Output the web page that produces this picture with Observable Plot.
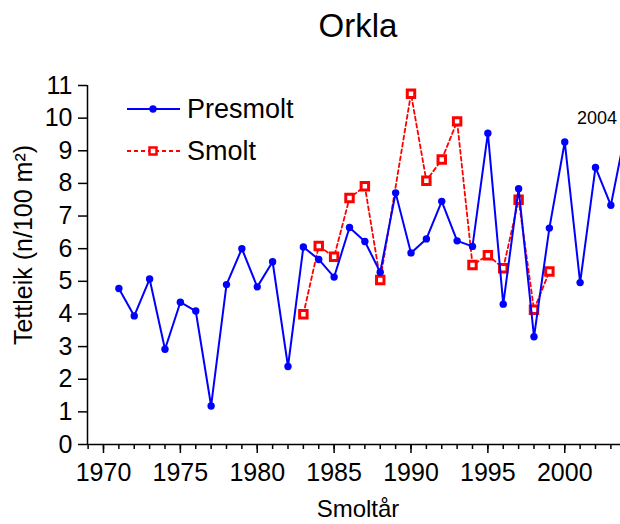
<!DOCTYPE html>
<html>
<head>
<meta charset="utf-8">
<script src="https://cdn.jsdelivr.net/npm/d3@7"></script>
<script src="https://cdn.jsdelivr.net/npm/@observablehq/plot@0.6"></script>
<style>
  html, body { margin: 0; padding: 0; background: white; overflow: hidden; }
  #chart { width: 620px; height: 524px; overflow: hidden; }
</style>
</head>
<body>
<div id="chart"></div>
<script>
// ---- data ----
const title = "Orkla";
const xLabel = "Smoltår";
const yLabel = "Tettleik (n/100 m²)";
const seriesNames = ["Presmolt", "Smolt"];

const presmoltYears = [1971,1972,1973,1974,1975,1976,1977,1978,1979,1980,1981,1982,1983,1984,1985,1986,1987,1988,1989,1990,1991,1992,1993,1994,1995,1996,1997,1998,1999,2000,2001,2002,2003,2004];
const presmoltValues = [4.78,3.94,5.07,2.92,4.36,4.09,1.18,4.90,6.00,4.83,5.60,2.39,6.05,5.67,5.13,6.65,6.22,5.28,7.71,5.87,6.30,7.45,6.24,6.07,9.54,4.30,7.84,3.30,6.63,9.27,4.96,8.49,7.33,9.7];

const smoltYears = [1983,1984,1985,1986,1987,1988,1990,1991,1992,1993,1994,1995,1996,1997,1998,1999];
const smoltValues = [3.99,6.08,5.75,7.55,7.91,5.04,10.75,8.08,8.73,9.90,5.50,5.80,5.40,7.50,4.13,5.30];

const yTicks = [0,1,2,3,4,5,6,7,8,9,10,11];
const xMajorTicks = [1970,1975,1980,1985,1990,1995,2000];
const xMinorTicks = d3.range(1969, 2004);
const annotation = "2004";

// ---- build tables ----
const presmolt = presmoltYears.map((x, i) => ({x, y: presmoltValues[i]}));
const smolt = smoltYears.map((x, i) => ({x, y: smoltValues[i]}));

const blue = "#0000ff";
const red = "#ff0000";
const font = "'Liberation Sans', Arial, Helvetica, sans-serif";

const plot = Plot.plot({
  width: 620,
  height: 524,
  marginTop: 85,
  marginBottom: 80,
  marginLeft: 87,
  marginRight: 0,
  style: {fontFamily: font, background: "white", color: "black"},
  x: {domain: [1968.96, 2003.626], axis: null},
  y: {domain: [0, 11], axis: null},
  marks: [
    // minor x ticks
    Plot.ruleX(xMinorTicks, {x: d => d, y1: 0, y2: 0, insetBottom: -5, stroke: "black", strokeWidth: 1.5}),
    Plot.axisX({ticks: xMajorTicks, tickFormat: d => String(d), tickSize: 9, tickPadding: 10, fontSize: 25, strokeWidth: 1.5, label: null}),
    Plot.axisY({ticks: yTicks, tickFormat: d => String(d), tickSize: 9, tickPadding: 6, fontSize: 25, strokeWidth: 1.5, label: null}),
    // smolt
    Plot.line(smolt, {x: "x", y: "y", stroke: red, strokeWidth: 1.8, strokeDasharray: "4,3", clip: true}),
    Plot.dot(smolt, {x: "x", y: "y", symbol: "square", r: 4.2, fill: "white", stroke: red, strokeWidth: 3, clip: true}),
    // presmolt
    Plot.line(presmolt, {x: "x", y: "y", stroke: blue, strokeWidth: 2, clip: true}),
    Plot.dot(presmolt, {x: "x", y: "y", r: 3.7, fill: blue, stroke: "none", clip: true}),
    // axis lines
    Plot.ruleY([0], {stroke: "black", strokeWidth: 1.5}),
    Plot.ruleX([1968.96], {stroke: "black", strokeWidth: 1.5})
  ]
});

document.getElementById("chart").appendChild(plot);

// ---- titles, legend, annotation ----
const svg = d3.select(plot);
const g = svg.append("g").attr("font-family", font).attr("fill", "black");

g.append("text").attr("x", 358).attr("y", 37).attr("text-anchor", "middle")
  .attr("font-size", 33).text(title);

g.append("text").attr("x", 358).attr("y", 517).attr("text-anchor", "middle")
  .attr("font-size", 24).text(xLabel);

g.append("text").attr("transform", "translate(32,245) rotate(-90)")
  .attr("text-anchor", "middle").attr("font-size", 25).text(yLabel);

g.append("text").attr("x", 617).attr("y", 124).attr("text-anchor", "end")
  .attr("font-size", 18).text(annotation);

// legend
const lg = svg.append("g").attr("font-family", font);
lg.append("line").attr("x1", 127).attr("x2", 180).attr("y1", 109).attr("y2", 109)
  .attr("stroke", blue).attr("stroke-width", 2);
lg.append("circle").attr("cx", 153).attr("cy", 109).attr("r", 3.7).attr("fill", blue);
lg.append("text").attr("x", 187).attr("y", 118).attr("font-size", 27)
  .attr("text-anchor", "start").text(seriesNames[0]);

lg.append("line").attr("x1", 127).attr("x2", 180).attr("y1", 151).attr("y2", 151)
  .attr("stroke", red).attr("stroke-width", 1.8).attr("stroke-dasharray", "4,3");
lg.append("rect").attr("x", 149.5).attr("y", 147.5).attr("width", 7).attr("height", 7)
  .attr("fill", "white").attr("stroke", red).attr("stroke-width", 2.5);
lg.append("text").attr("x", 187).attr("y", 160).attr("font-size", 27)
  .attr("text-anchor", "start").text(seriesNames[1]);
</script>
</body>
</html>
